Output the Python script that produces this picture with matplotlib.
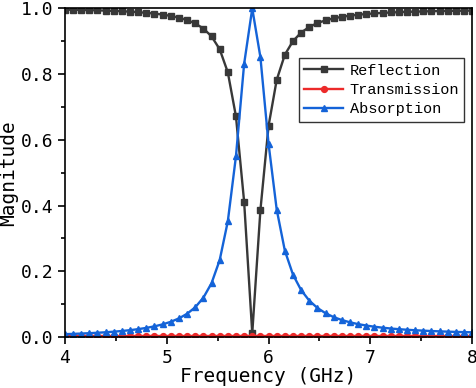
import matplotlib
matplotlib.use('Agg')
import matplotlib.pyplot as plt
import numpy as np
from matplotlib.ticker import MultipleLocator

# frequency points (GHz), 4.00 .. 8.00 in 0.08 steps (51 samples)
freq = np.linspace(4.0, 8.0, 51)

reflection = [0.9954, 0.9950, 0.9945, 0.9939, 0.9933, 0.9925, 0.9916, 0.9906, 0.9893, 0.9877,
              0.9858, 0.9834, 0.9804, 0.9764, 0.9711, 0.9638, 0.9535, 0.9381, 0.9143, 0.8752,
              0.8050, 0.6708, 0.4123, 0.0120, 0.3860, 0.6420, 0.7820, 0.8585, 0.9000, 0.9257,
              0.9429, 0.9546, 0.9630, 0.9691, 0.9737, 0.9772, 0.9800, 0.9822, 0.9840, 0.9855,
              0.9868, 0.9878, 0.9887, 0.9894, 0.9900, 0.9907, 0.9911, 0.9916, 0.9920, 0.9923,
              0.9926]

transmission = [0.003] * 51

absorption = [0.0092, 0.0100, 0.0110, 0.0121, 0.0134, 0.0149, 0.0167, 0.0188, 0.0213, 0.0244,
              0.0282, 0.0329, 0.0389, 0.0467, 0.0570, 0.0711, 0.0908, 0.1200, 0.1640, 0.2340,
              0.3520, 0.5500, 0.8300, 0.9990, 0.8510, 0.5880, 0.3880, 0.2630, 0.1900, 0.1430,
              0.1110, 0.0888, 0.0727, 0.0609, 0.0520, 0.0451, 0.0396, 0.0353, 0.0317, 0.0288,
              0.0263, 0.0243, 0.0225, 0.0210, 0.0198, 0.0186, 0.0177, 0.0168, 0.0160, 0.0154,
              0.0148]

fig = plt.figure(figsize=(4.77, 3.88), dpi=100)
ax = fig.add_axes([0.136, 0.131, 0.854, 0.848])

ax.plot(freq, reflection, color='#383838', lw=1.7, marker='s', ms=4.2, label='Reflection')
ax.plot(freq, transmission, color='#ec2a2a', lw=1.7, marker='o', ms=4.2, label='Transmission')
ax.plot(freq, absorption, color='#1463d8', lw=1.7, marker='^', ms=5, label='Absorption')

ax.set_xlim(4, 8)
ax.set_ylim(0, 1.0)
ax.xaxis.set_major_locator(MultipleLocator(1))
ax.xaxis.set_minor_locator(MultipleLocator(0.5))
ax.yaxis.set_major_locator(MultipleLocator(0.2))
ax.yaxis.set_minor_locator(MultipleLocator(0.1))
ax.yaxis.set_major_formatter(matplotlib.ticker.FormatStrFormatter('%.1f'))
ax.tick_params(which='major', direction='out', length=5, width=1.2)
ax.tick_params(which='minor', direction='out', length=3, width=1.2)
for s in ax.spines.values():
    s.set_linewidth(1.2)

for lab in ax.get_xticklabels() + ax.get_yticklabels():
    lab.set_family('DejaVu Sans Mono')
    lab.set_fontsize(13)

ax.set_xlabel('Frequency (GHz)', family='DejaVu Sans Mono', fontsize=14, labelpad=0)
ax.set_ylabel('Magnitude', family='DejaVu Sans Mono', fontsize=14, labelpad=2)

leg = ax.legend(loc='upper left', bbox_to_anchor=(0.575, 0.848), borderaxespad=0,
                prop={'family': 'Liberation Mono', 'size': 11}, fancybox=False,
                edgecolor='#333333', framealpha=1, handlelength=2.5,
                borderpad=0.35, labelspacing=0.35, handletextpad=0.45)
leg.get_frame().set_linewidth(1.0)

fig.savefig('out.png', dpi=100)
